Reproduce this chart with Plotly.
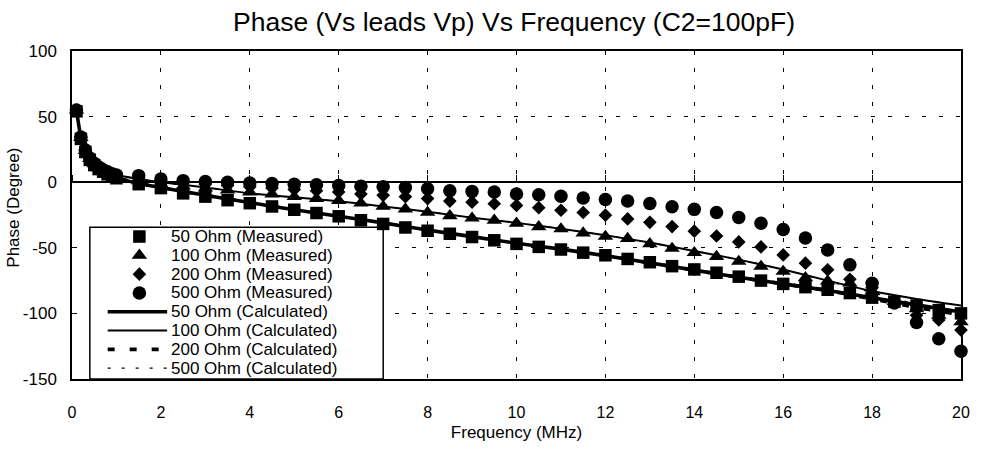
import plotly.graph_objects as go

# ---------------- data ----------------
freq_meas = [0.1, 0.2, 0.3, 0.4, 0.5, 0.6, 0.7, 0.8, 0.9, 1.0,
             1.5, 2.0, 2.5, 3.0, 3.5, 4.0, 4.5, 5.0, 5.5, 6.0,
             6.5, 7.0, 7.5, 8.0, 8.5, 9.0, 9.5, 10.0, 10.5, 11.0,
             11.5, 12.0, 12.5, 13.0, 13.5, 14.0, 14.5, 15.0, 15.5, 16.0,
             16.5, 17.0, 17.5, 18.0, 18.5, 19.0, 19.5, 20.0]

phase_50_meas = [54, 33, 23, 17, 13, 10, 8, 6, 4.5, 3,
                 -1.5, -4.5, -8.5, -11, -13.7, -16, -18.5, -21, -23.5, -26,
                 -29, -31.8, -34.5, -37, -39.3, -41.8, -44.3, -47, -49.3, -51.3,
                 -53.7, -55.7, -58.5, -61, -64, -66.5, -69, -72, -75, -77.5,
                 -80, -82, -84.5, -88, -91, -94, -97.5, -100]

phase_100_meas = [55, 34, 24, 18, 14, 11, 9, 7, 5.5, 4,
                  1, -1.5, -3, -4.5, -6, -7.5, -9, -11, -12.5, -14,
                  -16, -18.5, -20.5, -23, -25.6, -27.4, -29, -31.3, -34, -35.6,
                  -38.8, -41.3, -43, -47, -50.5, -53.7, -56.7, -60.4, -64.2, -68,
                  -72.9, -75.4, -77, -83, -91, -96.5, -101.5, -106.5]

phase_200_meas = [55, 34, 24, 18, 14, 11, 9, 7.5, 6, 5,
                  3, 0.5, -0.5, -1.5, -2.5, -3.5, -4.5, -5.5, -6.5, -7.5,
                  -9, -10, -11, -12.5, -14.4, -15.2, -16.4, -17.7, -19.4, -21.4,
                  -23.1, -25.1, -28, -30.6, -33.8, -37.3, -41, -45.5, -49.3, -55.4,
                  -61.7, -66.7, -74, -80.4, -91.5, -101.5, -105, -112.7]

phase_500_meas = [55, 34.5, 24.5, 18.5, 14.5, 11.5, 9.5, 8, 6.5, 5.5,
                  5, 2.5, 1.2, 0.5, 0, -0.7, -1, -1.5, -2, -2.5,
                  -3, -3.5, -4, -5, -6.5, -7, -7.5, -9, -9.5, -10.7,
                  -12, -13.2, -14.4, -16.2, -18.7, -20.7, -23.1, -26.9, -31.3, -36,
                  -42.5, -51.7, -63, -77, -92, -107, -119.4, -128.9]

freq_calc = [0.1, 0.2, 0.3, 0.4, 0.5, 0.6, 0.7, 0.8, 0.9, 1.0, 1.5,
             2, 3, 4, 5, 6, 7, 8, 9, 10, 11, 12, 13, 14, 15, 16, 17, 18, 19, 20]

phase_50_calc = [55, 34, 24, 18, 14, 11, 8.5, 6.5, 5, 3.5, -1,
                 -4, -10, -15.5, -21, -26, -31, -36.5, -41.5, -46.5, -51, -56,
                 -61.5, -67, -72.5, -77.5, -82.5, -88, -93.5, -99]

phase_100_calc = [55, 34, 24, 18, 14, 11, 9, 7.5, 6.5, 5.5, 2.5,
                  0, -4, -8.5, -11.5, -14.5, -18.5, -22.5, -27, -31, -35.5, -40.5,
                  -46, -52.5, -59, -66.5, -75, -83, -89, -94]

phase_200_calc = [55, 34, 24, 18, 14, 11, 8.5, 6.5, 5, 3.5, -1,
                  -4, -10, -15.5, -21, -26, -31, -36.5, -41.5, -46.5, -51, -56,
                  -61.5, -67, -72.5, -77.5, -82.5, -89, -95.5, -101]

phase_500_calc = [55, 34, 24, 18, 14, 11, 9, 7.5, 6.5, 5.5, 2.5,
                  0, -4, -8.5, -11.5, -14.5, -18.5, -22.5, -27, -31, -35.5, -40.5,
                  -46, -52.5, -59, -66.5, -75.5, -84, -93, -102]

labels_meas = ["50 Ohm (Measured)", "100 Ohm (Measured)",
               "200 Ohm (Measured)", "500 Ohm (Measured)"]
labels_calc = ["50 Ohm (Calculated)", "100 Ohm (Calculated)",
               "200 Ohm (Calculated)", "500 Ohm (Calculated)"]

x_ticks = [0, 2, 4, 6, 8, 10, 12, 14, 16, 18, 20]
y_ticks = [-150, -100, -50, 0, 50, 100]

# ---------------- layout constants ----------------
W, H = 982, 451
PL, PR, PT, PB = 72, 969, 51, 386
X0, X1 = 0, 20
Y0, Y1 = -150, 100
FONT = "Liberation Sans, Arial, Helvetica, sans-serif"


def px2x(px):
    return X0 + (px - PL) / (PR - PL) * (X1 - X0)


def py2y(py):
    return Y1 - (py - PT) / (PB - PT) * (Y1 - Y0)


calc_styles = [dict(width=3.6, dash="solid"),
               dict(width=2.0, dash="solid"),
               dict(width=3.6, dash="7px,15px"),
               dict(width=1.3, dash="3px,11px")]
meas_markers = [dict(symbol="square", size=12.5),
                dict(symbol="triangle-up", size=13.5),
                dict(symbol="diamond", size=10.5),
                dict(symbol="circle", size=13.5)]

fig = go.Figure()

calc_series = [phase_50_calc, phase_100_calc, phase_200_calc, phase_500_calc]
for ys, st, name in zip(calc_series, calc_styles, labels_calc):
    fig.add_trace(go.Scatter(x=freq_calc, y=ys, mode="lines", name=name,
                             line=dict(color="black", width=st["width"], dash=st["dash"],
                                       shape="spline", smoothing=0.5),
                             showlegend=False, hoverinfo="skip"))

meas_series = [phase_50_meas, phase_100_meas, phase_200_meas, phase_500_meas]
for ys, mk, name in zip(meas_series, meas_markers, labels_meas):
    fig.add_trace(go.Scatter(x=freq_meas, y=ys, mode="markers", name=name,
                             marker=dict(color="black", symbol=mk["symbol"], size=mk["size"],
                                         line=dict(width=0)),
                             showlegend=False, cliponaxis=False))

# ---------------- hand-drawn compact legend (as in the original) ----------------
box_l, box_r, box_t, box_b = 90, 386, 231, 386
fig.add_shape(type="rect", xref="x", yref="y",
              x0=px2x(box_l), x1=px2x(box_r), y0=py2y(box_t), y1=py2y(box_b),
              line=dict(color="black", width=1.5), fillcolor="white", layer="between")

row_py = [240.5, 259.7, 278.9, 298.1, 317.3, 336.5, 355.7, 374.9]
key_cx, line_l, line_r, text_l = 140, 108, 168, 171

for i in range(4):
    mk = meas_markers[i]
    fig.add_trace(go.Scatter(x=[px2x(key_cx)], y=[py2y(row_py[i])], mode="markers",
                             marker=dict(color="black", symbol=mk["symbol"], size=mk["size"]),
                             showlegend=False, hoverinfo="skip", cliponaxis=False))
for i in range(4):
    st = calc_styles[i]
    yv = py2y(row_py[4 + i])
    fig.add_trace(go.Scatter(x=[px2x(line_l), px2x(line_r)], y=[yv, yv], mode="lines",
                             line=dict(color="black", width=st["width"], dash=st["dash"]),
                             showlegend=False, hoverinfo="skip", cliponaxis=False))

for i, lab in enumerate(labels_meas + labels_calc):
    fig.add_annotation(x=px2x(text_l), y=py2y(row_py[i]), xref="x", yref="y",
                       text=lab, showarrow=False, xanchor="left", yanchor="middle",
                       borderpad=0,
                       font=dict(family=FONT, size=17, color="black"))

# ---------------- axes / layout ----------------
grid_dash = "4px,13px"
fig.update_xaxes(range=[X0, X1], tickvals=x_ticks, ticktext=[str(v) for v in x_ticks],
                 showgrid=True, gridcolor="black", gridwidth=1, griddash=grid_dash,
                 showline=True, linecolor="black", linewidth=1.5, mirror=True,
                 zeroline=False, ticks="", ticklabelstandoff=18,
                 tickfont=dict(family=FONT, size=16, color="black"),
                 title=dict(text="Frequency (MHz)", standoff=6,
                            font=dict(family=FONT, size=17, color="black")))
fig.update_yaxes(range=[Y0, Y1], tickvals=y_ticks, ticktext=[str(v) for v in y_ticks],
                 showgrid=True, gridcolor="black", gridwidth=1, griddash=grid_dash,
                 showline=True, linecolor="black", linewidth=1.5, mirror=True,
                 zeroline=True, zerolinecolor="black", zerolinewidth=1.5,
                 ticks="inside", ticklen=5, tickcolor="black", ticklabelstandoff=10,
                 tickfont=dict(family=FONT, size=17, color="black"))

# tick marks sitting on the zero line (category axis crossing at 0)
fig.update_layout(xaxis2=dict(overlaying="x", anchor="free", side="top",
                              position=(0 - Y0) / (Y1 - Y0),
                              range=[X0, X1], tickvals=x_ticks, showticklabels=False,
                              ticks="outside", ticklen=7, tickwidth=1.2, tickcolor="black",
                              showgrid=False, showline=False, zeroline=False))
fig.add_trace(go.Scatter(x=[X0], y=[Y0], xaxis="x2", mode="markers",
                         marker=dict(opacity=0), showlegend=False, hoverinfo="skip"))

fig.add_annotation(text="Phase (Degree)", xref="paper", yref="paper",
                   x=(13.5 - PL) / (PR - PL), y=(PB - 211) / (PB - PT),
                   textangle=-90, showarrow=False, xanchor="center", yanchor="middle",
                   font=dict(family=FONT, size=17, color="black"))

fig.update_layout(
    width=W, height=H,
    margin=dict(l=PL, r=W - PR, t=PT, b=H - PB),
    paper_bgcolor="white", plot_bgcolor="white",
    title=dict(text="Phase (Vs leads Vp) Vs Frequency (C2=100pF)",
               x=(518 - PL) / (PR - PL), xref="paper", xanchor="center",
               y=1 - 22 / H, yref="container", yanchor="middle",
               font=dict(family=FONT, size=26.5, color="black")),
    showlegend=False,
)

fig.write_html("out.html")
